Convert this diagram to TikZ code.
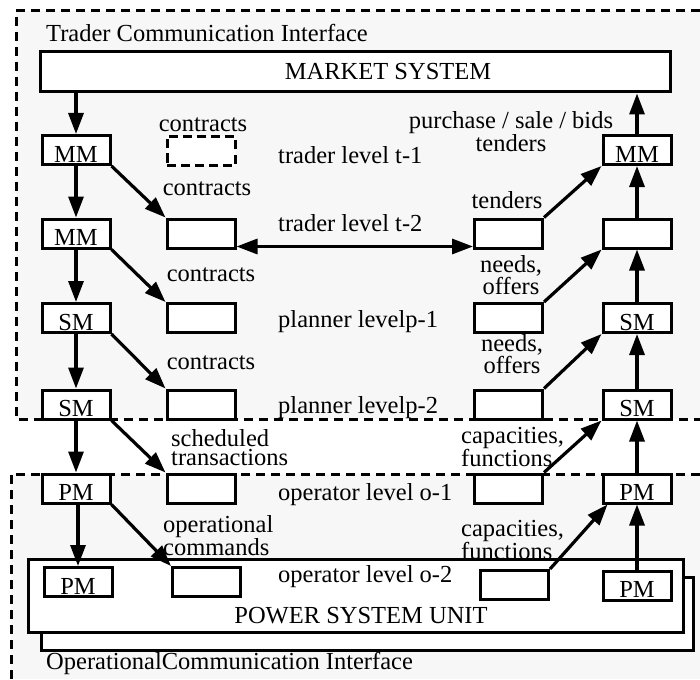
\documentclass[tikz,border=0pt]{standalone}
\usepackage{fontspec}
\setmainfont{Liberation Serif}
\usepackage{xcolor}
\usepackage{tikz}
\usetikzlibrary{arrows.meta}
\tikzset{
  region/.style   = {fill=black!3, draw=none},
  bound/.style    = {draw=black, line width=3pt, dash pattern=on 9pt off 6pt},
  unit/.style     = {draw=black, fill=white, line width=3pt, minimum width=68pt, minimum height=29pt,
                     inner sep=0pt, text height=24pt, text depth=0pt},
  unitd/.style    = {unit, dash pattern=on 9pt off 5pt},
  big/.style      = {draw=black, fill=white, line width=3pt, inner sep=0pt},
  lbl/.style      = {inner sep=0pt, align=center},
  lbll/.style     = {inner sep=0pt, anchor=west, align=left},
  arr/.style      = {-{Triangle[length=21pt,width=15pt]}, line width=3.2pt},
  arrb/.style     = {{Triangle[length=21pt,width=15pt]}-{Triangle[length=21pt,width=15pt]}, line width=3.2pt},
}

\begin{document}
\begin{tikzpicture}[x=1pt,y=-1pt,font=\fontsize{24.5}{19}\selectfont]
  \useasboundingbox (0,0) rectangle (700,679);

  % ---------- communication interfaces ----------
  \fill[region] (16,11) rectangle (700,419);
  \draw[bound] (700,11) -- (16,11) -- (16,419) -- (700,419);
  \fill[region] (11,474) rectangle (700,679);
  \draw[bound] (700,474) -- (11,474) -- (11,679);
  \node[lbll] (tci) at (46,33) {Trader Communication Interface};
  \node[lbll] (oci) at (46,663) {OperationalCommunication Interface};

  % ---------- market system ----------
  \node[big, minimum width=630pt, minimum height=40pt] (mkt) at (355,72) {};
  \node[lbl] (mktlbl) at (388,72) {MARKET SYSTEM};

  % ---------- power system unit ----------
  \draw[big] (41,577) rectangle (693,650);
  \node[big, minimum width=655pt, minimum height=73pt] (psu) at (355.5,596) {};
  \node[lbl] (psulbl) at (361,616) {POWER SYSTEM UNIT};

  % ---------- left column ----------
  \foreach \n/\t/\y in {lmm1/MM/150, lmm2/MM/233.5, lsm1/SM/318, lsm2/SM/404.5, lpm1/PM/488.5}
  {
    \node[unit] (\n) at (76,\y) {\t};
  }
  \node[unit] (lpm2) at (78,582) {PM};

  % ---------- contracts boxes ----------
  \node[unitd] (ct1) at (201,151) {};
  \foreach \n/\y in {ct2/233.5, ct3/318, ct4/404.5, ct5/488.5}
  {
    \node[unit] (\n) at (201,\y) {};
  }
  \node[unit] (ct6) at (206.5,582) {};

  % ---------- bids boxes ----------
  \foreach \n/\y in {bd2/233.5, bd3/318, bd4/404.5, bd5/488.5}
  {
    \node[unit] (\n) at (508.5,\y) {};
  }
  \node[unit] (bd6) at (514.5,585) {};

  % ---------- right column ----------
  \foreach \n/\t/\y in {rmm1/MM/150, rmm2//233.5, rsm1/SM/318, rsm2/SM/404.5, rpm1/PM/488.5}
  {
    \node[unit] (\n) at (637,\y) {\t};
  }
  \node[unit] (rpm2) at (637,585.5) {PM};

  % ---------- level texts ----------
  \foreach \n/\t/\y in {lvt1/{trader level t-1}/155, lvt2/{trader level t-2}/223,
                        lvp1/{planner levelp-1}/322, lvp2/{planner levelp-2}/408,
                        lvo1/{operator level o-1}/495, lvo2/{operator level o-2}/577}
  {
    \node[lbll] (\n) at (278,\y) {\t};
  }

  % ---------- flow labels ----------
  \node[lbl] (lc1) at (203,125) {contracts};
  \node[lbl] (lc2) at (207,189) {contracts};
  \node[lbl] (lc3) at (211,275) {contracts};
  \node[lbl] (lc4) at (211,363) {contracts};
  \node[lbll] (lsch) at (171,448) {scheduled\\transactions};
  \node[lbll] (lopc) at (163,536) {operational\\commands};
  \node[lbl, font=\fontsize{24.5}{21}\selectfont] (lpur) at (511,132) {purchase / sale / bids\\tenders};
  \node[lbl] (lten) at (507,200) {tenders};
  \node[lbl] (lnd1) at (511,275) {needs,\\offers};
  \node[lbl] (lnd2) at (512,354) {needs,\\offers};
  \node[lbll] (lcap1) at (461,447) {capacities,\\functions};
  \node[lbll] (lcap2) at (461,540) {capacities,\\functions};

  % ---------- downward flow ----------
  \draw[arr] (lmm1.north |- mkt.south) -- (lmm1.north);
  \foreach \a/\b in {lmm1/lmm2, lmm2/lsm1, lsm1/lsm2, lsm2/lpm1}
  {
    \draw[arr] (\a) -- (\b);
  }
  \draw[arr] (lpm1.south -| lpm2.north) -- (lpm2.north);
  \foreach \a/\b in {lmm1/ct2, lmm2/ct3, lsm1/ct4, lsm2/ct5, lpm1/ct6}
  {
    \draw[arr] (\a.south east) -- (\b.north west);
  }

  % ---------- upward flow ----------
  \draw[arr] (rmm1.north) -- (rmm1.north |- mkt.south);
  \foreach \a/\b in {rpm2/rpm1, rpm1/rsm2, rsm2/rsm1, rsm1/rmm2, rmm2/rmm1}
  {
    \draw[arr] (\a) -- (\b);
  }
  \foreach \a/\b in {bd2/rmm1, bd3/rmm2, bd4/rsm1, bd5/rsm2}
  {
    \draw[arr] (\a.north east) -- (\b.south west);
  }
  \draw[arr] (bd6.north east) -- ([xshift=6pt]rpm1.south west);

  % trader level t-2 exchange
  \draw[arrb] ([yshift=3pt]ct2.south east) -- ([yshift=3pt]bd2.south west);
\end{tikzpicture}
\end{document}
